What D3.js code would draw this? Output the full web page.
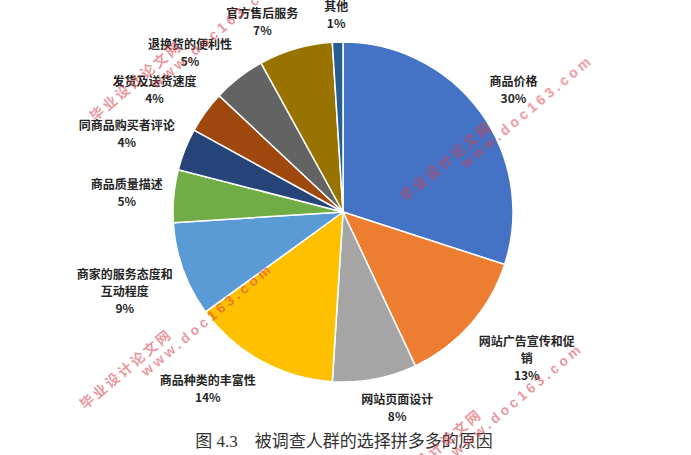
<!DOCTYPE html>
<html>
<head>
<meta charset="utf-8">
<script src="https://cdn.jsdelivr.net/npm/d3@7"></script>
<style>
  html, body { margin: 0; padding: 0; background: #fff; }
  svg { display: block; }
</style>
</head>
<body>
<svg id="chart" width="691" height="455"></svg>
<script>
// ---- data ----
const categories = ["商品价格", "网站广告宣传和促销", "网站页面设计", "商品种类的丰富性",
  "商家的服务态度和互动程度", "商品质量描述", "同商品购买者评论", "发货及送货速度",
  "退换货的便利性", "官方售后服务", "其他"];
const values = [30, 13, 8, 14, 9, 5, 4, 4, 5, 7, 1];
const sliceColors = ["#4472C4", "#ED7D31", "#A5A5A5", "#FFC000", "#5B9BD5", "#70AD47",
  "#264478", "#9E480E", "#636363", "#997300", "#255E91"];
const caption = "图 4.3\u3000被调查人群的选择拼多多的原因";
const watermarkTitle = "毕业设计论文网";
const watermarkUrl = "www.doc163.com";

// ---- layout ----
const W = 691, H = 455;
const cx = 343, cy = 212, R = 170;
const labelGap = 11;
const maxCharsPerLine = 8;

const svg = d3.select("#chart");
const g = svg.append("g").attr("transform", `translate(${cx},${cy})`);

const pie = d3.pie().sort(null).value(d => d.value).startAngle(0).endAngle(2 * Math.PI);
const arcs = pie(categories.map((c, i) => ({ name: c, value: values[i], color: sliceColors[i] })));
const arc = d3.arc().innerRadius(0).outerRadius(R);

g.selectAll("path.slice").data(arcs).join("path")
  .attr("class", "slice")
  .attr("d", arc)
  .attr("fill", d => d.data.color)
  .attr("stroke", "#fff")
  .attr("stroke-width", 1.5)
  .attr("stroke-linejoin", "round");

// labels
const fmt = v => `${v}%`;
function wrap(s) {
  const out = [];
  for (let i = 0; i < s.length; i += maxCharsPerLine) out.push(s.slice(i, i + maxCharsPerLine));
  return out;
}
const clamp = v => Math.max(-1, Math.min(1, v));
const labelG = g.selectAll("g.lbl").data(arcs).join("g").attr("class", "lbl");
labelG.each(function (d) {
  const grp = d3.select(this);
  const lines = wrap(d.data.name).concat([fmt(d.data.value)]);
  const t = grp.append("text")
    .attr("text-anchor", "middle")
    .attr("font-family", "'Noto Sans CJK SC', 'Noto Sans', sans-serif")
    .attr("font-size", 12)
    .attr("font-weight", "bold")
    .attr("fill", "#262626");
  lines.forEach((ln, i) => {
    t.append("tspan").attr("x", 0).attr("dy", i === 0 ? 0 : 17).text(ln);
  });
  const bb = t.node().getBBox();
  const a = (d.startAngle + d.endAngle) / 2;
  const sx = Math.sin(a), sy = -Math.cos(a);
  const ax = (R + labelGap) * sx, ay = (R + labelGap) * sy;
  const tx = ax + clamp(3 * sx) * bb.width / 2;
  const ty = ay + clamp(2 * sy) * bb.height / 2;
  const bcx = bb.x + bb.width / 2, bcy = bb.y + bb.height / 2;
  t.attr("transform", `translate(${tx - bcx},${ty - bcy})`);
});

// caption
svg.append("text")
  .attr("x", 344).attr("y", 447)
  .attr("text-anchor", "middle")
  .attr("font-family", "'Liberation Serif', 'Noto Sans CJK SC', serif")
  .attr("font-size", 17)
  .attr("fill", "#333")
  .text(caption);

// watermarks (tiled)
const wmOrigin = [95, 122], wmU = [310, 80], wmV = [-10, 288];
const wm = svg.append("g").attr("opacity", 0.55);
for (let i = -1; i <= 2; i++) {
  for (let j = -1; j <= 2; j++) {
    const ox = wmOrigin[0] + i * wmU[0] + j * wmV[0];
    const oy = wmOrigin[1] + i * wmU[1] + j * wmV[1];
    if (ox < -250 || ox > W + 50 || oy < -50 || oy > H + 250) continue;
    const w = wm.append("g").attr("transform", `translate(${ox},${oy}) rotate(-40)`);
    w.append("text")
      .attr("font-family", "'Noto Sans CJK SC', sans-serif")
      .attr("font-size", 14).attr("font-weight", "bold")
      .attr("letter-spacing", 2.5)
      .attr("fill", "#d8404c")
      .text(watermarkTitle);
    w.append("text")
      .attr("x", 68).attr("y", 14)
      .attr("font-family", "'Liberation Sans', sans-serif")
      .attr("font-size", 14).attr("font-weight", "bold")
      .attr("letter-spacing", 3.6)
      .attr("fill", "#d8404c")
      .text(watermarkUrl);
  }
}
</script>
</body>
</html>
